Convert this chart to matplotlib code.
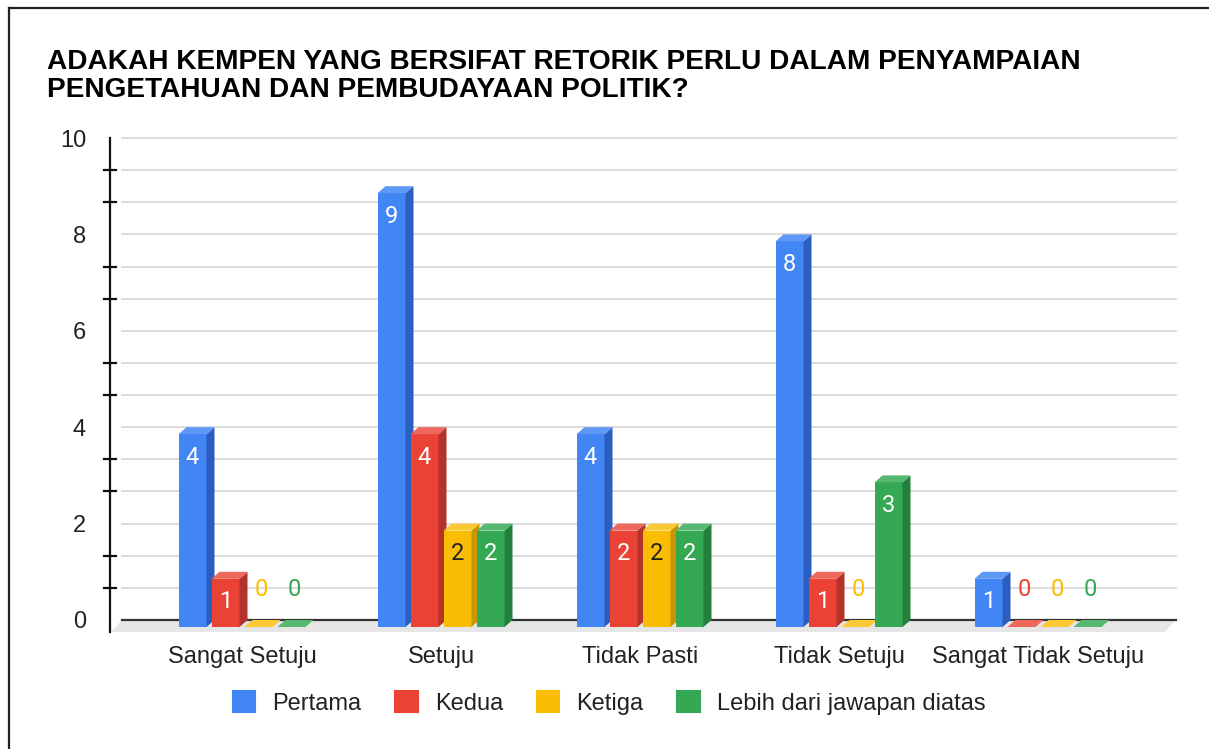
import numpy as np
import matplotlib
matplotlib.use("Agg")
import matplotlib.pyplot as plt
from matplotlib.patches import Polygon, Rectangle, Patch
from matplotlib.lines import Line2D

# Data
kategori = ["Sangat Setuju", "Setuju", "Tidak Pasti", "Tidak Setuju", "Sangat Tidak Setuju"]
seri = ["Pertama", "Kedua", "Ketiga", "Lebih dari jawapan diatas"]
pertama = [4, 9, 4, 8, 1]
kedua = [1, 4, 2, 1, 0]
ketiga = [0, 2, 2, 0, 0]
lebih = [0, 2, 2, 3, 0]
nilai = [pertama, kedua, ketiga, lebih]

judul = ("ADAKAH KEMPEN YANG BERSIFAT RETORIK PERLU DALAM PENYAMPAIAN\n"
         "PENGETAHUAN DAN PEMBUDAYAAN POLITIK?")

# Warna (depan, samping, atas, teks label)
warna = ["#4285F4", "#EA4335", "#FBBC04", "#34A853"]
warna_samping = ["#2C5DC0", "#B3332A", "#C99600", "#22803D"]
warna_atas = ["#5E98F6", "#EE675C", "#FCC934", "#57B96F"]
warna_teks = ["white", "white", "#222222", "white"]

W, H = 1209, 749
fig = plt.figure(figsize=(W / 100, H / 100), dpi=100)
huruf = "Liberation Sans"

# skala dalam piksel
px_cat = 199.0      # jarak antar kategori
px_unit = 48.2      # piksel per nilai 1
x0_px = 242.0       # pusat kategori pertama
y0_px = 620.0       # garis nol (dinding belakang)
ax_l, ax_r, ax_t, ax_b = 100, 1190, 130, 640

ax = fig.add_axes([ax_l / W, 1 - ax_b / H, (ax_r - ax_l) / W, (ax_b - ax_t) / H])
ax.set_xlim((ax_l - x0_px) / px_cat, (ax_r - x0_px) / px_cat)
ax.set_ylim(-(ax_b - y0_px) / px_unit, (y0_px - ax_t) / px_unit)
for s in ax.spines.values():
    s.set_visible(False)

def px_x(p):
    return p / px_cat

def px_y(p):
    return p / px_unit

# ukuran batang 3D
lebar = px_x(28)
langkah = px_x(33)
dx = px_x(8)
dy = px_y(7)
grid_kiri = (122 - x0_px) / px_cat
grid_kanan = (1176 - x0_px) / px_cat
sumbu_x = (110 - x0_px) / px_cat

# grid tiap 2/3
for k in range(16):
    y = k * 2 / 3
    ax.plot([grid_kiri, grid_kanan], [y, y], color="#d9d9d9", lw=1.3, zorder=1)

# lantai
fd_x, fd_y = px_x(11), px_y(12)
lantai = Polygon([(grid_kiri, 0), (grid_kanan, 0), (grid_kanan - fd_x, -fd_y),
                  (grid_kiri - fd_x, -fd_y)], closed=True, facecolor="#e6e6e6",
                 edgecolor="none", zorder=1.5)
ax.add_patch(lantai)
ax.plot([grid_kiri, grid_kanan], [0, 0], color="#333333", lw=1.6, zorder=2)

# sumbu kiri dengan tanda
ax.plot([sumbu_x, sumbu_x], [10, -px_y(12)], color="#111111", lw=1.6, zorder=2)
for k in range(16):
    if k % 3 != 0:
        y = k * 2 / 3
        ax.plot([sumbu_x - px_x(6), sumbu_x + px_x(6)], [y, y], color="#111111",
                lw=1.6, zorder=2)

# batang
x = np.arange(len(kategori))
z = 3
for i in range(len(kategori)):
    for j in range(len(seri)):
        v = nilai[j][i]
        cx = x[i] + (j - 1.5) * langkah
        xa = cx - lebar / 2
        yb = -dy
        yt = yb + v
        if v > 0:
            ax.add_patch(Rectangle((xa, yb), lebar, v, facecolor=warna[j],
                                   edgecolor="none", zorder=z))
            ax.add_patch(Polygon([(xa + lebar, yb), (xa + lebar + dx, yb + dy),
                                  (xa + lebar + dx, yt + dy), (xa + lebar, yt)],
                                 closed=True, facecolor=warna_samping[j],
                                 edgecolor="none", zorder=z))
        ax.add_patch(Polygon([(xa, yt), (xa + lebar, yt), (xa + lebar + dx, yt + dy),
                              (xa + dx, yt + dy)], closed=True, facecolor=warna_atas[j],
                             edgecolor="none", zorder=z))
        if v > 0:
            ax.text(cx, yt - px_y(23), str(v), color=warna_teks[j], fontsize=17,
                    ha="center", va="center", family="Roboto", zorder=z + 0.5)
        else:
            ax.text(cx + dx / 3, 2 / 3 - px_y(2), str(v), color=warna[j], fontsize=17,
                    ha="center", va="center", family="Roboto", zorder=z + 0.5)
        z += 1

# label sumbu
ax.set_yticks(range(0, 11, 2))
ax.set_yticklabels([str(t) for t in range(0, 11, 2)], family=huruf,
                   fontsize=17, color="#222222")
ax.set_xticks(x)
ax.set_xticklabels(kategori, family=huruf, fontsize=17, color="#222222")
ax.tick_params(axis="y", length=0, pad=10)
ax.tick_params(axis="x", length=0, pad=4)

# judul
fig.text(47 / W, 1 - 49 / H, judul, fontsize=20.2, fontweight="bold",
         family=huruf, va="top", ha="left", linespacing=1.08)

# legenda
handles = [Patch(facecolor=c, edgecolor=c, lw=1.5, joinstyle="round") for c in warna]
fig.legend(handles, seri, loc="center", bbox_to_anchor=(609 / W, 1 - 703 / H),
           ncol=4, frameon=False, prop={"family": huruf, "size": 17},
           handlelength=0.96, handleheight=0.96, handletextpad=0.72,
           columnspacing=1.42, labelcolor="#222222")

# bingkai
fig.add_artist(Line2D([9 / W, 9 / W], [0, 1 - 8 / H], color="#222222", lw=1.6))
fig.add_artist(Line2D([9 / W, 1], [1 - 8 / H, 1 - 8 / H], color="#222222", lw=1.6))

fig.savefig("out.png", dpi=100)
